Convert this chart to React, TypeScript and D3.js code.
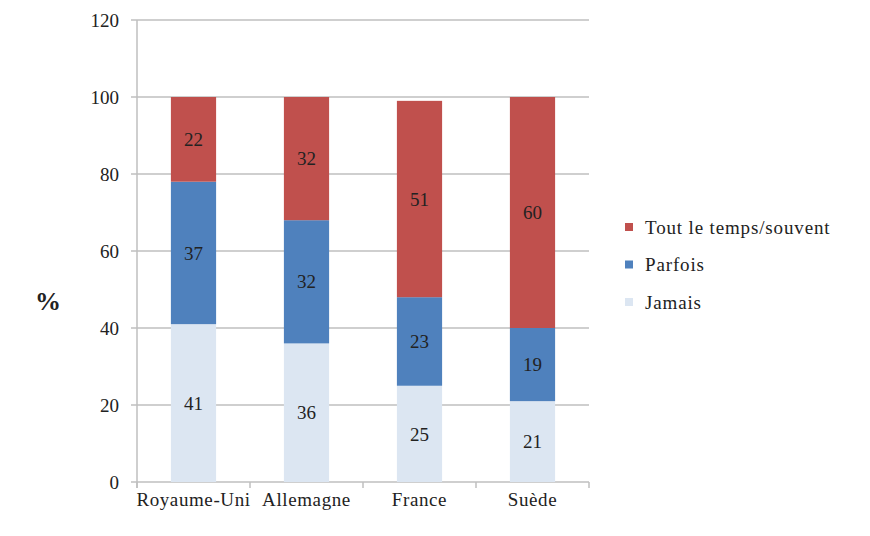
import React from "react";
import * as d3 from "d3";

const categories = ["Royaume-Uni", "Allemagne", "France", "Suède"];
const jamais = [41, 36, 25, 21];
const parfois = [37, 32, 23, 19];
const toutLeTemps = [22, 32, 51, 60];
const seriesNames = ["Jamais", "Parfois", "Tout le temps/souvent"];
const yTicks = [0, 20, 40, 60, 80, 100, 120];

const colors: Record<string, string> = {
  Jamais: "#DCE6F2",
  Parfois: "#4F81BD",
  "Tout le temps/souvent": "#C0504D",
};

const W = 870;
const H = 536;
const FONT = "Liberation Serif";

export default function App() {
  const x = d3.scaleBand<string>().domain(categories).range([137, 589]).paddingInner(0.6).paddingOuter(0.3);
  const y = d3.scaleLinear().domain([0, 120]).range([482, 20]);

  const rows = categories.map((c, i) => ({
    cat: c,
    Jamais: jamais[i],
    Parfois: parfois[i],
    "Tout le temps/souvent": toutLeTemps[i],
  }));
  const stack = d3.stack<any>().keys(seriesNames)(rows);
  const step = (589 - 137) / categories.length;
  const boundaries = d3.range(categories.length + 1).map((i) => 137 + i * step);

  const legendOrder = ["Tout le temps/souvent", "Parfois", "Jamais"];

  return (
    <svg width={W} height={H} style={{ position: "absolute", left: 0, top: 0, background: "#fff", fontFamily: FONT }}>
      {yTicks.map((t) => (
        <g key={t}>
          <line x1={131} x2={589} y1={y(t)} y2={y(t)} stroke="#BFBFBF" strokeWidth={1.5} />
          <text x={119} y={y(t)} dy="0.35em" textAnchor="end" fontSize={19} fill="#222">
            {t}
          </text>
        </g>
      ))}
      <line x1={137} x2={137} y1={y(120)} y2={488} stroke="#BFBFBF" strokeWidth={1.5} />
      {boundaries.map((bx, i) => (
        <line key={i} x1={bx} x2={bx} y1={482} y2={488} stroke="#BFBFBF" strokeWidth={1.5} />
      ))}
      {stack.map((s) => (
        <g key={s.key}>
          {s.map((d: any, i: number) => (
            <rect
              key={i}
              x={x(categories[i])}
              y={y(d[1])}
              width={x.bandwidth()}
              height={y(d[0]) - y(d[1])}
              fill={colors[s.key]}
            />
          ))}
          {s.map((d: any, i: number) => (
            <text
              key={"t" + i}
              x={(x(categories[i]) as number) + x.bandwidth() / 2}
              y={y((d[0] + d[1]) / 2)}
              dy="0.35em"
              textAnchor="middle"
              fontSize={19}
              fill="#222"
            >
              {d[1] - d[0]}
            </text>
          ))}
        </g>
      ))}
      {categories.map((c) => (
        <text
          key={c}
          x={(x(c) as number) + x.bandwidth() / 2}
          y={506}
          textAnchor="middle"
          fontSize={19}
          letterSpacing={0.6}
          fill="#222"
        >
          {c}
        </text>
      ))}
      <text x={48} y={301} dy="0.35em" textAnchor="middle" fontSize={26} fontWeight="bold" fill="#222">
        %
      </text>
      {legendOrder.map((k, i) => (
        <g key={k} transform={`translate(625, ${227 + i * 37.5})`}>
          <rect x={0} y={-4} width={8} height={8} fill={colors[k]} />
          <text x={20} y={0} dy="0.35em" fontSize={19} letterSpacing={0.85} fill="#222">
            {k}
          </text>
        </g>
      ))}
    </svg>
  );
}
